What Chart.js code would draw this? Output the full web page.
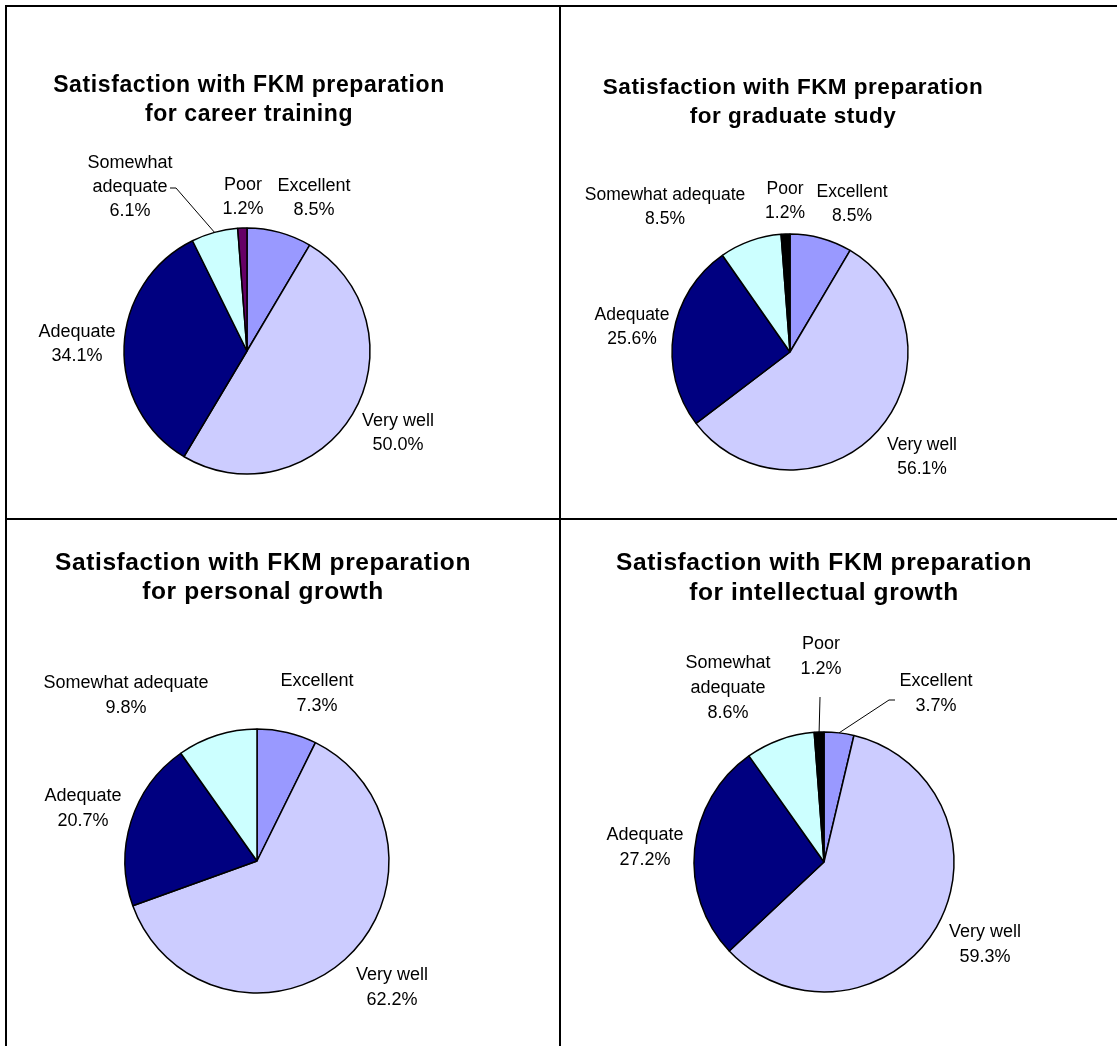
<!DOCTYPE html>
<html>
<head>
<meta charset="utf-8">
<script src="https://cdn.jsdelivr.net/npm/chart.js@4.4.1/dist/chart.umd.min.js"></script>
<style>
  html, body { margin: 0; padding: 0; background: #fff; }
  #page { position: relative; width: 1117px; height: 1046px; overflow: hidden; background: #fff; }
  .panel { position: absolute; }
  .panel canvas { position: absolute; left: 0; top: 0; }
  .rule { position: absolute; background: #000; z-index: 5; }
</style>
</head>
<body>
<div id="page">
  <div class="panel" style="left:0;top:0;width:560px;height:519px"><canvas id="career" width="560" height="519"></canvas></div>
  <div class="panel" style="left:560px;top:0;width:557px;height:519px"><canvas id="graduate" width="557" height="519"></canvas></div>
  <div class="panel" style="left:0;top:519px;width:560px;height:527px"><canvas id="personal" width="560" height="527"></canvas></div>
  <div class="panel" style="left:560px;top:519px;width:557px;height:527px"><canvas id="intellectual" width="557" height="527"></canvas></div>

  <div class="rule" style="left:5px;top:5px;width:1112px;height:2px"></div>
  <div class="rule" style="left:5px;top:5px;width:2px;height:1041px"></div>
  <div class="rule" style="left:559px;top:5px;width:2px;height:1041px"></div>
  <div class="rule" style="left:5px;top:518px;width:1112px;height:2px"></div>
</div>
<script>
// --- data ---
const careerLabels = ['Excellent', 'Very well', 'Adequate', ['Somewhat', 'adequate'], 'Poor'];
const careerValues = [8.5, 50.0, 34.1, 6.1, 1.2];

const graduateLabels = ['Excellent', 'Very well', 'Adequate', 'Somewhat adequate', 'Poor'];
const graduateValues = [8.5, 56.1, 25.6, 8.5, 1.2];

const personalLabels = ['Excellent', 'Very well', 'Adequate', 'Somewhat adequate'];
const personalValues = [7.3, 62.2, 20.7, 9.8];

const intellectualLabels = ['Excellent', 'Very well', 'Adequate', ['Somewhat', 'adequate'], 'Poor'];
const intellectualValues = [3.7, 59.3, 27.2, 8.6, 1.2];

const sliceColors = ['#9999FF', '#CCCCFF', '#000080', '#CCFFFF'];

const FONT = '"Liberation Sans", Arial, sans-serif';

// titles, data labels and leader lines
const pieText = {
  id: 'pieText',
  afterDatasetsDraw(chart, args, opts) {
    const ctx = chart.ctx;
    const meta = chart.getDatasetMeta(0);
    const values = chart.data.datasets[0].data;
    const cx = meta.data[0].x, cy = meta.data[0].y;
    ctx.save();
    ctx.fillStyle = '#000';
    ctx.textAlign = 'center';
    ctx.textBaseline = 'middle';

    ctx.font = `bold ${opts.titleSize}px ${FONT}`;
    ctx.letterSpacing = opts.titleSpacing + 'px';
    opts.title.forEach((line, i) => ctx.fillText(line, opts.titleX, opts.titleY + i * opts.titleGap));
    ctx.letterSpacing = '0px';

    ctx.font = `${opts.labelSize}px ${FONT}`;
    const lh = opts.lineGap;
    meta.data.forEach((arc, i) => {
      const [dx, dy] = opts.offsets[i];
      const lines = [].concat(chart.data.labels[i], values[i].toFixed(1) + '%');
      const top = cy + dy - (lines.length - 1) * lh / 2;
      lines.forEach((t, k) => ctx.fillText(t, cx + dx, top + k * lh));
    });

    ctx.strokeStyle = '#000';
    ctx.lineWidth = 1;
    (opts.leaders || []).forEach(ld => {
      const arc = meta.data[ld.index];
      const mid = (arc.startAngle + arc.endAngle) / 2;
      ctx.beginPath();
      ld.path.forEach(([px, py], k) => k ? ctx.lineTo(cx + px, cy + py) : ctx.moveTo(cx + px, cy + py));
      ctx.lineTo(arc.x + Math.cos(mid) * arc.outerRadius, arc.y + Math.sin(mid) * arc.outerRadius);
      ctx.stroke();
    });
    ctx.restore();
  }
};

function makePie(id, labels, values, poorColor, geo, text) {
  const canvas = document.getElementById(id);
  const W = canvas.width, H = canvas.height;
  const h = geo.r + 6;
  return new Chart(canvas, {
    type: 'pie',
    data: {
      labels,
      datasets: [{
        data: values,
        backgroundColor: sliceColors.concat(poorColor),
        borderColor: '#000',
        borderWidth: 1.5,
        radius: geo.r
      }]
    },
    options: {
      responsive: false,
      animation: false,
      events: [],
      layout: {
        padding: { left: geo.cx - h, right: W - geo.cx - h, top: geo.cy - h, bottom: H - geo.cy - h }
      },
      plugins: {
        legend: { display: false },
        tooltip: { enabled: false },
        title: { display: false },
        pieText: text
      }
    },
    plugins: [pieText]
  });
}

const titleTop = 'Satisfaction with FKM preparation';

makePie('career', careerLabels, careerValues, '#660066',
  { cx: 247, cy: 351, r: 123 },
  { title: [titleTop, 'for career training'], titleX: 249, titleY: 86, titleGap: 29, titleSize: 23, titleSpacing: 0.6,
    labelSize: 18, lineGap: 24,
    offsets: [[67, -153], [151, 82], [-170, -7], [-117, -164], [-4, -154]],
    leaders: [{ index: 3, path: [[-77, -163], [-71, -163]] }] });

makePie('graduate', graduateLabels, graduateValues, '#000000',
  { cx: 230, cy: 352, r: 118 },
  { title: [titleTop, 'for graduate study'], titleX: 233, titleY: 88, titleGap: 29, titleSize: 22.5, titleSpacing: 0.5,
    labelSize: 17.5, lineGap: 24,
    offsets: [[62, -148], [132, 105], [-158, -25], [-125, -145], [-5, -151]] });

makePie('personal', personalLabels, personalValues, '#000000',
  { cx: 257, cy: 342, r: 132 },
  { title: [titleTop, 'for personal growth'], titleX: 263, titleY: 44, titleGap: 29, titleSize: 24.5, titleSpacing: 0.6,
    labelSize: 18, lineGap: 25,
    offsets: [[60, -167], [135, 127], [-174, -52], [-131, -165]] });

makePie('intellectual', intellectualLabels, intellectualValues, '#000000',
  { cx: 264, cy: 343, r: 130 },
  { title: [titleTop, 'for intellectual growth'], titleX: 264, titleY: 44, titleGap: 30, titleSize: 24.5, titleSpacing: 0.6,
    labelSize: 18, lineGap: 25,
    offsets: [[112, -168], [161, 83], [-179, -14], [-96, -174], [-3, -205]],
    leaders: [
      { index: 4, path: [[-4, -165]] },
      { index: 0, path: [[71, -162], [65, -162]] }
    ] });
</script>
</body>
</html>
